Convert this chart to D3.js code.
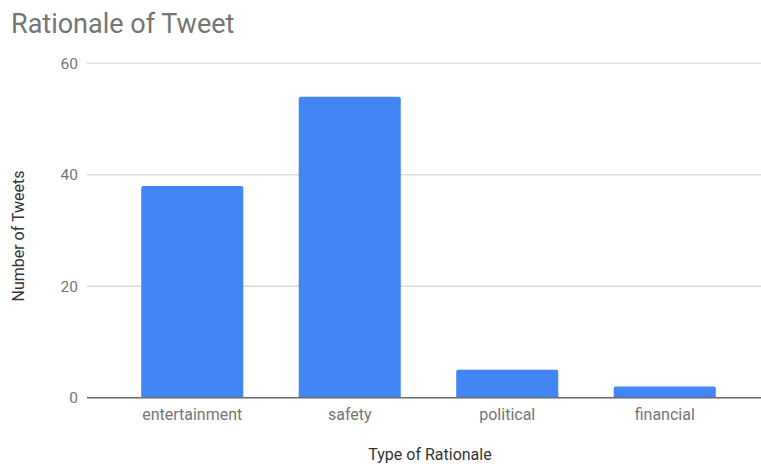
<!DOCTYPE html>
<html><head><meta charset="utf-8">
<script src="https://cdn.jsdelivr.net/npm/d3@7"></script>
<style>body{margin:0;background:#fff}svg{display:block}</style>
</head><body>
<script>
const categories = ["entertainment", "safety", "political", "financial"];
const values = [38, 54, 5, 2];
const yTicks = [0, 20, 40, 60];
const title = "Rationale of Tweet";
const xTitle = "Type of Rationale";
const yTitle = "Number of Tweets";

const W = 761, H = 464;
const svg = d3.select("body").append("svg").attr("width", W).attr("height", H);
const font = "Roboto, Arial, sans-serif";

const y = d3.scaleLinear().domain([0, 60]).range([397.7, 63.3]);
const x = d3.scaleBand().domain(categories).range([113.5, 743.5]).paddingInner(0.352).paddingOuter(0.176);

// title
svg.append("text").attr("x", 11).attr("y", 33).text(title)
  .attr("font-family", font).attr("font-size", 27).attr("fill", "#757575");

// gridlines
svg.append("g").selectAll("line").data(yTicks.filter(d => d !== 0)).join("line")
  .attr("x1", 87).attr("x2", 761).attr("y1", d => y(d)).attr("y2", d => y(d))
  .attr("stroke", "#dcdcdc").attr("stroke-width", 1.3);

// y tick labels
svg.append("g").selectAll("text").data(yTicks).join("text")
  .attr("x", 78).attr("y", d => y(d)).attr("dy", "0.35em").attr("text-anchor", "end")
  .attr("font-family", font).attr("font-size", 15.5).attr("fill", "#757575").text(d => d);

// bars
svg.append("g").selectAll("path").data(categories).join("path")
  .attr("d", (c, i) => {
    const x0 = x(c), w = x.bandwidth(), y0 = y(values[i]), y1 = y(0), r = 2;
    return `M${x0},${y1}V${y0 + r}Q${x0},${y0} ${x0 + r},${y0}H${x0 + w - r}Q${x0 + w},${y0} ${x0 + w},${y0 + r}V${y1}Z`;
  })
  .attr("fill", "#4285f4");

// zero axis line
svg.append("line").attr("x1", 87).attr("x2", 761).attr("y1", y(0)).attr("y2", y(0))
  .attr("stroke", "#6b6b6b").attr("stroke-width", 1.4);

// x labels
svg.append("g").selectAll("text").data(categories).join("text")
  .attr("x", c => x(c) + x.bandwidth() / 2).attr("y", 414).attr("dy", "0.35em")
  .attr("text-anchor", "middle").attr("font-family", font).attr("font-size", 16)
  .attr("fill", "#757575").text(c => c);

// axis titles
svg.append("text").attr("x", 430).attr("y", 454).attr("dy", "0.35em").attr("text-anchor", "middle")
  .attr("font-family", font).attr("font-size", 16).attr("fill", "#333").text(xTitle);
svg.append("text").attr("transform", "translate(18,236) rotate(-90)").attr("dy", "0.35em")
  .attr("text-anchor", "middle").attr("font-family", font).attr("font-size", 16)
  .attr("fill", "#333").text(yTitle);
</script>
</body></html>
